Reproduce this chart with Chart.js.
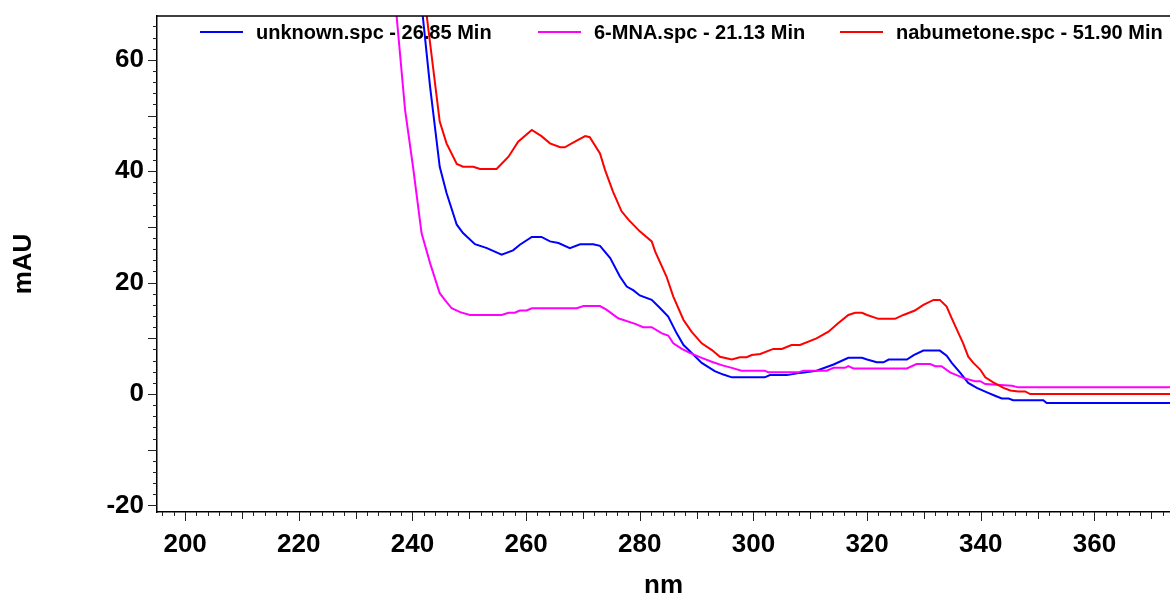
<!DOCTYPE html>
<html><head><meta charset="utf-8">
<script src="https://cdn.jsdelivr.net/npm/chart.js@4/dist/chart.umd.min.js"></script>
<style>html,body{margin:0;padding:0;background:#fff;overflow:hidden}canvas{display:block}</style>
</head><body>
<canvas id="c" width="1170" height="599"></canvas>
<script>
// ---- data ----
const xTickLabels = [200, 220, 240, 260, 280, 300, 320, 340, 360];
const yTickLabels = [-20, 0, 20, 40, 60];
const seriesNames = ['unknown.spc - 26.85 Min', '6-MNA.spc - 21.13 Min', 'nabumetone.spc - 51.90 Min'];
const seriesColors = ['#0000FF', '#FF00FF', '#FF0000'];

const unknownNm = [240.5, 241.8, 243.1, 244.8, 246.0, 247.8, 248.9, 251.0, 253.1, 255.7, 257.7, 258.9, 261.0, 262.7, 264.2, 265.7, 267.7, 269.5, 271.8, 273.0, 274.8, 276.5, 277.7, 278.9, 280.0, 282.1, 283.6, 285.0, 286.5, 287.7, 289.1, 290.9, 293.2, 294.7, 296.2, 302.0, 302.9, 305.9, 308.2, 311.1, 314.1, 316.7, 319.1, 320.0, 321.7, 322.9, 323.8, 327.0, 328.2, 329.9, 332.8, 334.0, 334.9, 336.4, 337.8, 339.3, 341.1, 342.5, 343.7, 344.9, 345.7, 351.0, 351.6, 374];
const unknownAU = [81, 68, 55.2, 40.8, 36.1, 30.4, 28.9, 26.9, 26.2, 25.0, 25.8, 26.8, 28.2, 28.2, 27.4, 27.1, 26.2, 26.9, 26.9, 26.6, 24.4, 21.1, 19.3, 18.6, 17.7, 16.9, 15.4, 13.9, 10.9, 8.8, 7.4, 5.6, 4.1, 3.5, 3.0, 3.0, 3.4, 3.4, 3.8, 4.2, 5.3, 6.5, 6.5, 6.2, 5.7, 5.7, 6.2, 6.2, 7.0, 7.8, 7.8, 6.9, 5.6, 3.8, 2.0, 1.1, 0.3, -0.3, -0.8, -0.8, -1.1, -1.1, -1.6, -1.6];

const mnaNm = [236, 237.2, 238.7, 240.1, 241.6, 243.1, 244.8, 245.7, 246.9, 248.4, 250.1, 255.7, 256.9, 258.0, 258.9, 260.1, 261.0, 268.9, 270.1, 273.0, 274.2, 276.2, 279.2, 280.6, 282.1, 283.9, 285.0, 285.9, 287.4, 288.8, 290.9, 292.9, 294.7, 296.2, 297.9, 302.0, 302.6, 307.9, 308.8, 312.9, 314.1, 316.1, 316.7, 317.6, 327.0, 328.7, 331.1, 332.0, 333.1, 334.6, 336.9, 339.0, 339.9, 340.8, 345.5, 346.6, 374];
const mnaAU = [81, 68, 51.0, 40.8, 28.9, 23.5, 18.1, 16.9, 15.4, 14.7, 14.2, 14.2, 14.6, 14.6, 15.0, 15.0, 15.4, 15.4, 15.8, 15.8, 15.1, 13.6, 12.6, 12.0, 12.0, 10.9, 10.5, 9.1, 8.1, 7.4, 6.5, 5.7, 5.1, 4.7, 4.2, 4.2, 3.9, 3.9, 4.2, 4.2, 4.7, 4.7, 5.0, 4.6, 4.6, 5.4, 5.4, 5.0, 5.0, 3.9, 2.9, 2.3, 2.3, 1.8, 1.5, 1.2, 1.2];

const nabuNm = [241, 242.5, 244.8, 246.0, 247.8, 248.9, 250.7, 251.9, 254.8, 256.9, 258.6, 261.0, 262.7, 264.2, 266.0, 266.8, 268.9, 270.4, 271.2, 273.0, 273.9, 275.3, 276.8, 278.0, 280.0, 282.1, 282.7, 284.7, 285.9, 287.7, 289.1, 290.9, 292.7, 294.1, 296.2, 297.6, 298.8, 299.7, 301.2, 303.5, 305.0, 306.7, 308.2, 311.1, 313.2, 314.9, 316.7, 317.9, 319.1, 320.0, 322.0, 324.9, 326.4, 328.4, 329.9, 331.7, 332.8, 334.0, 334.9, 336.9, 337.8, 338.7, 339.9, 340.8, 342.2, 344.0, 345.2, 346.6, 347.8, 348.7, 374];
const nabuAU = [80, 68, 48.9, 45.0, 41.3, 40.8, 40.8, 40.4, 40.4, 42.6, 45.3, 47.4, 46.3, 45.0, 44.3, 44.3, 45.5, 46.3, 46.1, 43.2, 40.2, 36.3, 32.8, 31.3, 29.2, 27.4, 25.6, 21.1, 17.5, 13.3, 11.2, 9.1, 7.9, 6.7, 6.2, 6.6, 6.6, 7.0, 7.2, 8.1, 8.1, 8.8, 8.8, 10.0, 11.2, 12.7, 14.2, 14.6, 14.6, 14.2, 13.5, 13.5, 14.2, 15.0, 16.0, 16.9, 16.9, 15.7, 13.6, 9.1, 6.7, 5.6, 4.4, 3.0, 2.1, 1.1, 0.65, 0.47, 0.47, 0.0, 0.0];

const xMin = 195.05, xMax = 373.3;
const yMin = -21.17, yMax = 67.86;

// ---- chart ----
const FONT = '"Liberation Sans", Arial, Helvetica, sans-serif';
const toPts = (xs, ys) => xs.map((x, i) => ({x: x, y: ys[i]}));
const seriesX = [unknownNm, mnaNm, nabuNm];
const seriesY = [unknownAU, mnaAU, nabuAU];

const datasets = seriesNames.map((name, i) => ({
  label: name,
  data: toPts(seriesX[i], seriesY[i]),
  borderColor: seriesColors[i],
  backgroundColor: seriesColors[i],
  borderWidth: 2,
  pointRadius: 0,
  tension: 0,
  fill: false,
  order: 2 - i
}));

const legendX = [200, 538, 840];
const legendPlugin = {
  id: 'inLegend',
  beforeDatasetsDraw(chart) {
    const ctx = chart.ctx;
    ctx.save();
    chart.data.datasets.forEach((ds, i) => {
      const x0 = legendX[i];
      ctx.strokeStyle = ds.borderColor;
      ctx.lineWidth = 2;
      ctx.beginPath();
      ctx.moveTo(x0, 32); ctx.lineTo(x0 + 43, 32);
      ctx.stroke();
      ctx.fillStyle = '#000';
      ctx.font = 'bold 20px ' + FONT;
      ctx.textBaseline = 'middle';
      ctx.textAlign = 'left';
      ctx.fillText(ds.label, x0 + 56, 33);
    });
    ctx.restore();
  }
};

const tickPlugin = {
  id: 'tickMarks',
  afterDraw(chart) {
    const {ctx, chartArea: a, scales: {x, y}} = chart;
    ctx.save();
    ctx.strokeStyle = '#222';
    ctx.lineWidth = 1;
    ctx.beginPath();
    for (let v = Math.ceil(x.min / 2) * 2; v <= x.max; v += 2) {
      const len = v % 20 === 0 ? 9 : (v % 10 === 0 ? 7 : 4);
      const px = Math.round(x.getPixelForValue(v)) + 0.5;
      ctx.moveTo(px, a.bottom); ctx.lineTo(px, a.bottom + len);
    }
    for (let v = Math.ceil(y.min / 2) * 2; v <= y.max; v += 2) {
      const len = v % 10 === 0 ? 9 : 4;
      const py = Math.round(y.getPixelForValue(v)) + 0.5;
      ctx.moveTo(a.left - len, py); ctx.lineTo(a.left, py);
    }
    ctx.stroke();
    ctx.strokeStyle = '#000';
    ctx.lineWidth = 1.5;
    ctx.beginPath();
    ctx.moveTo(a.left, a.top); ctx.lineTo(a.right, a.top);
    ctx.stroke();
    ctx.restore();
  }
};

new Chart(document.getElementById('c'), {
  type: 'line',
  data: {datasets: datasets},
  options: {
    responsive: false,
    animation: false,
    events: [],
    layout: {padding: {top: 16, right: 0, left: 0, bottom: 0}},
    plugins: {legend: {display: false}, tooltip: {enabled: false}},
    scales: {
      x: {
        type: 'linear',
        min: xMin, max: xMax,
        afterBuildTicks: s => { s.ticks = xTickLabels.map(v => ({value: v})); },
        afterFit: s => { s.height = 87; s.paddingLeft = 0; s.paddingRight = 0; },
        grid: {display: false, drawTicks: false},
        border: {display: true, color: '#000', width: 1.5},
        ticks: {
          autoSkip: false, maxRotation: 0, padding: 17,
          color: '#000',
          font: {family: FONT, size: 26, weight: 'bold'},
          callback: v => String(v)
        },
        title: {
          display: true, text: 'nm', color: '#000',
          font: {family: FONT, size: 26, weight: 'bold', lineHeight: 1},
          padding: {top: 0, bottom: 0}
        }
      },
      y: {
        type: 'linear',
        min: yMin, max: yMax,
        afterBuildTicks: s => { s.ticks = yTickLabels.map(v => ({value: v})); },
        afterFit: s => { s.width = 157; s.paddingTop = 0; s.paddingBottom = 0; },
        grid: {display: false, drawTicks: false},
        border: {display: true, color: '#000', width: 1.5},
        ticks: {
          autoSkip: false, padding: 13,
          color: '#000',
          font: {family: FONT, size: 26, weight: 'bold'},
          callback: v => String(v)
        },
        title: {
          display: true, text: 'mAU', color: '#000',
          font: {family: FONT, size: 26, weight: 'bold', lineHeight: 1},
          padding: {top: 11, bottom: 0}
        }
      }
    }
  },
  plugins: [legendPlugin, tickPlugin]
});
</script>
</body></html>
